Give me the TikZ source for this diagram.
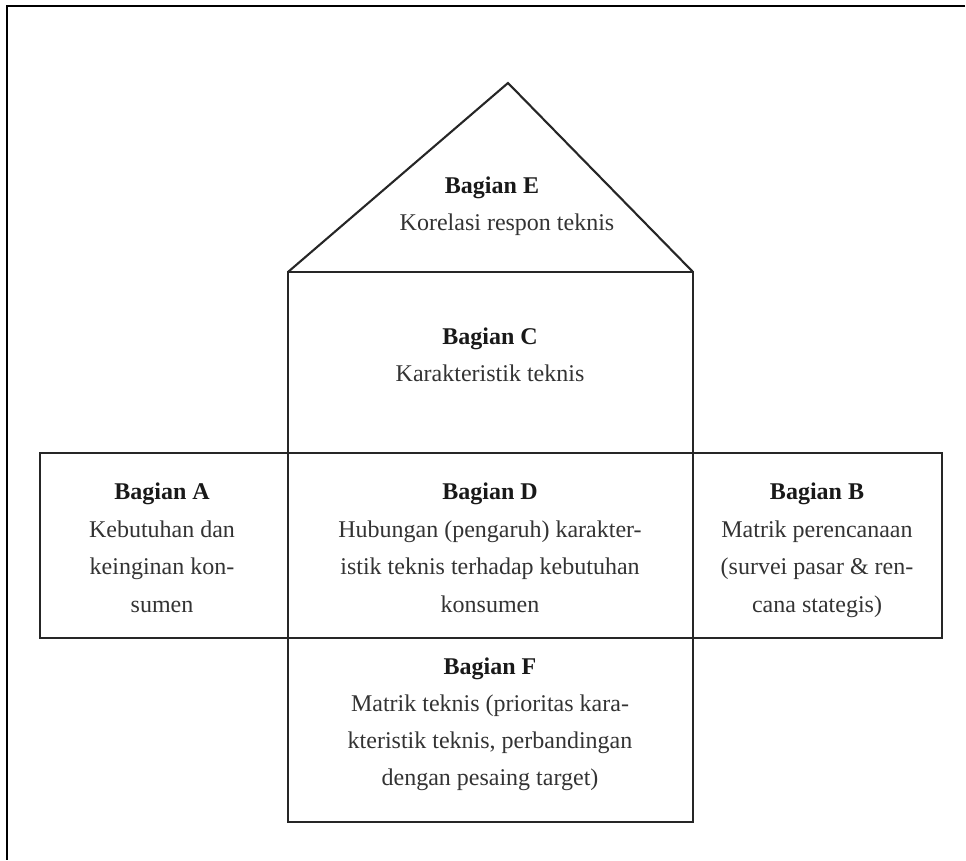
\documentclass[tikz,border=0pt]{standalone}
\usepackage{fontspec}
\setmainfont{Liberation Serif}
\begin{document}
\begin{tikzpicture}[x=1pt,y=-1pt,
  shape line/.style={draw=black!85,line width=2.1pt,line join=miter},
  frame line/.style={draw=black,line width=2.2pt},
  hd/.style={anchor=base,inner sep=0pt,font=\fontsize{24}{30}\selectfont\bfseries,text=black!90},
  tx/.style={anchor=base,inner sep=0pt,font=\fontsize{24}{30}\selectfont,text=black!80}]
\useasboundingbox (0,0) rectangle (966,860);
% outer frame (top and left only)
\draw[frame line] (965,6) -- (7,6) -- (7,860);
% house
\draw[shape line] (288,272) -- (508,83) -- (693,272);
\draw[shape line] (288,272) rectangle (693,453);
\draw[shape line] (40,453) rectangle (288,638);
\draw[shape line] (288,453) rectangle (693,638);
\draw[shape line] (693,453) rectangle (942,638);
\draw[shape line] (288,638) rectangle (693,822);
% E
\node[hd] (e1) at (492,193) {Bagian E};
\node[tx] (e2) at (507,230) {Korelasi respon teknis};
% C
\node[hd] (c1) at (490,344) {Bagian C};
\node[tx] (c2) at (490,381) {Karakteristik teknis};
% A
\node[hd] (a1) at (162,499) {Bagian A};
\node[tx] (a2) at (162,537) {Kebutuhan dan};
\node[tx] (a3) at (162,574) {keinginan kon-};
\node[tx] (a4) at (162,612) {sumen};
% D
\node[hd] (d1) at (490,499) {Bagian D};
\node[tx] (d2) at (490,537) {Hubungan (pengaruh) karakter-};
\node[tx] (d3) at (490,574) {istik teknis terhadap kebutuhan};
\node[tx] (d4) at (490,612) {konsumen};
% B
\node[hd] (b1) at (817,499) {Bagian B};
\node[tx] (b2) at (817,537) {Matrik perencanaan};
\node[tx] (b3) at (817,574) {(survei pasar \& ren-};
\node[tx] (b4) at (817,612) {cana stategis)};
% F
\node[hd] (f1) at (490,674) {Bagian F};
\node[tx] (f2) at (490,711) {Matrik teknis (prioritas kara-};
\node[tx] (f3) at (490,748) {kteristik teknis, perbandingan};
\node[tx] (f4) at (490,785) {dengan pesaing target)};
\end{tikzpicture}
\end{document}
